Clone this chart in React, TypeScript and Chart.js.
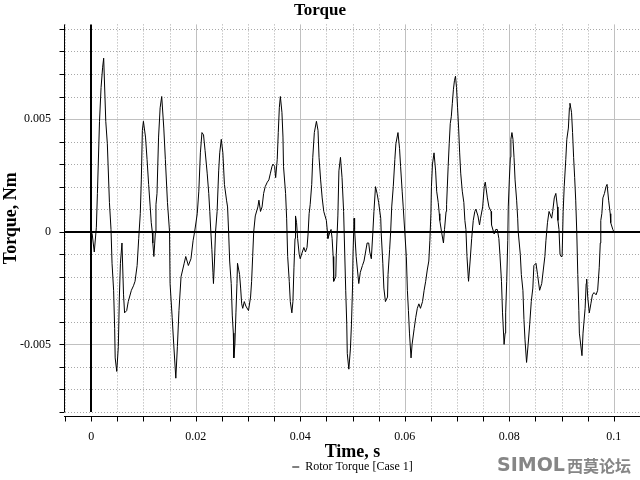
import React, { useEffect, useRef } from 'react';
import { Chart, registerables } from 'chart.js';

Chart.register(...registerables);

// ---- data ----
const timeS = [
  0, 0.0002, 0.0006, 0.0010, 0.0012, 0.0016, 0.0019, 0.0022, 0.0024, 0.0028,
  0.0031, 0.0035, 0.0038, 0.0040, 0.0043, 0.0045, 0.0046, 0.0049, 0.0052, 0.0054,
  0.0056, 0.0059, 0.0062, 0.0064, 0.0068, 0.0071, 0.0077, 0.0081, 0.0084, 0.0088,
  0.0091, 0.0094, 0.0096, 0.0098, 0.0100, 0.0104, 0.0107, 0.0110, 0.0113, 0.0115,
  0.0117, 0.0118, 0.0120, 0.0123, 0.0124, 0.0126, 0.0129, 0.0132, 0.0135, 0.0139,
  0.0142, 0.0146, 0.0150, 0.0151, 0.0155, 0.0158, 0.0162, 0.0165, 0.0168, 0.0172,
  0.0175, 0.0178, 0.0181, 0.0186, 0.0191, 0.0195, 0.0198, 0.0203, 0.0206, 0.0209,
  0.0212, 0.0215, 0.0218, 0.0222, 0.0225, 0.0227, 0.0229, 0.0231, 0.0233, 0.0234,
  0.0236, 0.0238, 0.0241, 0.0244, 0.0246, 0.0249, 0.0250, 0.0252, 0.0255, 0.0259,
  0.0261, 0.0263, 0.0265, 0.0268, 0.0270, 0.0272, 0.0273, 0.0275, 0.0277, 0.0279,
  0.0280, 0.0284, 0.0286, 0.0288, 0.0290, 0.0293, 0.0296, 0.0301, 0.0305, 0.0307,
  0.0309, 0.0311, 0.0314, 0.0319, 0.0321, 0.0324, 0.0327, 0.0330, 0.0333, 0.0337,
  0.0340, 0.0343, 0.0346, 0.0348, 0.0351, 0.0353, 0.0356, 0.0358, 0.0360, 0.0362,
  0.0365, 0.0367, 0.0368, 0.0372, 0.0374, 0.0376, 0.0379, 0.0381, 0.0384, 0.0386,
  0.0388, 0.0390, 0.0391, 0.0393, 0.0395, 0.0398, 0.0400, 0.0404, 0.0407, 0.0410,
  0.0413, 0.0415, 0.0417, 0.0419, 0.0422, 0.0424, 0.0427, 0.0431, 0.0434, 0.0436,
  0.0439, 0.0442, 0.0445, 0.0450, 0.0452, 0.0453, 0.0457, 0.0459, 0.0461, 0.0463,
  0.0464, 0.0468, 0.0469, 0.0472, 0.0474, 0.0477, 0.0480, 0.0483, 0.0487, 0.0489,
  0.0490, 0.0493, 0.0496, 0.0498, 0.0500, 0.0501, 0.0503, 0.0504, 0.0507, 0.0512,
  0.0515, 0.0519, 0.0522, 0.0525, 0.0528, 0.0531, 0.0533, 0.0536, 0.0539, 0.0541,
  0.0544, 0.0547, 0.0550, 0.0554, 0.0555, 0.0558, 0.0560, 0.0563, 0.0567, 0.0568,
  0.0571, 0.0573, 0.0575, 0.0578, 0.0581, 0.0583, 0.0587, 0.0590, 0.0592, 0.0595,
  0.0597, 0.0600, 0.0603, 0.0605, 0.0607, 0.0609, 0.0612, 0.0614, 0.0618, 0.0621,
  0.0624, 0.0627, 0.0630, 0.0634, 0.0637, 0.0640, 0.0643, 0.0646, 0.0648, 0.0650,
  0.0651, 0.0653, 0.0656, 0.0659, 0.0661, 0.0664, 0.0666, 0.0667, 0.0671, 0.0674,
  0.0676, 0.0679, 0.0680, 0.0683, 0.0685, 0.0687, 0.0689, 0.0691, 0.0693, 0.0695,
  0.0697, 0.0699, 0.0701, 0.0703, 0.0705, 0.0707, 0.0710, 0.0713, 0.0715, 0.0717,
  0.0719, 0.0722, 0.0725, 0.0728, 0.0731, 0.0734, 0.0736, 0.0740, 0.0743, 0.0745,
  0.0749, 0.0752, 0.0754, 0.0758, 0.0761, 0.0765, 0.0766, 0.0771, 0.0774, 0.0777,
  0.0780, 0.0782, 0.0785, 0.0787, 0.0790, 0.0792, 0.0793, 0.0795, 0.0797, 0.0798,
  0.0800, 0.0802, 0.0803, 0.0805, 0.0807, 0.0809, 0.0811, 0.0814, 0.0816, 0.0817,
  0.0821, 0.0823, 0.0826, 0.0828, 0.0830, 0.0833, 0.0836, 0.0839, 0.0842, 0.0845,
  0.0847, 0.0851, 0.0854, 0.0858, 0.0862, 0.0865, 0.0868, 0.0870, 0.0873, 0.0876,
  0.0881, 0.0883, 0.0886, 0.0889, 0.0892, 0.0893, 0.0895, 0.0897, 0.0899, 0.0901,
  0.0903, 0.0905, 0.0908, 0.0910, 0.0913, 0.0915, 0.0916, 0.0919, 0.0921, 0.0923,
  0.0925, 0.0927, 0.0929, 0.0931, 0.0933, 0.0934, 0.0939, 0.0941, 0.0945, 0.0947,
  0.0948, 0.0950, 0.0953, 0.0956, 0.0959, 0.0962, 0.0966, 0.0969, 0.0972, 0.0974,
  0.0975, 0.0977, 0.0979, 0.0982, 0.0985, 0.0987, 0.0990, 0.0993, 0.0994, 0.0998, 0.1000,
];

const torqueNm = [
  0, -0.0001, -0.0009, 0.0002, 0.0017, 0.0049, 0.0064, 0.0073, 0.0077, 0.0049,
  0.0039, 0.0013, 0.0001, -0.0014, -0.0026, -0.0043, -0.0056, -0.0062, -0.0051, -0.0029,
  -0.0014, -0.0005, -0.0028, -0.0036, -0.0035, -0.0031, -0.0026, -0.0024, -0.0022, -0.0015,
  -0.0003, 0.0008, 0.0023, 0.0045, 0.0049, 0.0042, 0.0032, 0.0021, 0.0011, 0.0004,
  0, -0.0005, -0.0011, 0, 0.0012, 0.0017, 0.0042, 0.0055, 0.0060, 0.0046,
  0.0032, 0.0013, 0, -0.0023, -0.0038, -0.0050, -0.0065, -0.0051, -0.0035, -0.0020,
  -0.0017, -0.0014, -0.0011, -0.0015, -0.0012, -0.0004, 0, 0.0008, 0.0018, 0.0035,
  0.0044, 0.0043, 0.0036, 0.0026, 0.0017, 0.0009, 0, -0.0008, -0.0018, -0.0023,
  -0.0013, 0, 0.0009, 0.0027, 0.0035, 0.0041, 0.0041, 0.0035, 0.0021, 0.0014,
  0.0011, 0, -0.0013, -0.0023, -0.0037, -0.0045, -0.0056, -0.0050, -0.0036, -0.0023,
  -0.0014, -0.0019, -0.0025, -0.0032, -0.0034, -0.0031, -0.0033, -0.0035, -0.0029, -0.0022,
  -0.0011, 0, 0.0007, 0.0011, 0.0014, 0.0009, 0.0011, 0.0017, 0.0020, 0.0022,
  0.0023, 0.0026, 0.0029, 0.0030, 0.0029, 0.0024, 0.0032, 0.0044, 0.0055, 0.0060,
  0.0053, 0.0042, 0.0029, 0.0017, 0.0006, -0.0011, -0.0022, -0.0031, -0.0036, -0.0031,
  -0.0016, -0.0003, 0.0007, 0.0004, -0.0003, -0.0010, -0.0012, -0.0009, -0.0007, -0.0009,
  -0.0007, -0.0001, 0.0008, 0.0012, 0.0021, 0.0033, 0.0044, 0.0049, 0.0045, 0.0033,
  0.0023, 0.0015, 0.0009, 0.0005, 0, -0.0003, 0, 0.0001, -0.0003, -0.0011,
  -0.0022, -0.0020, -0.0010, 0.0007, 0.0027, 0.0033, 0.0024, 0.0009, -0.0026, -0.0041,
  -0.0054, -0.0061, -0.0052, -0.0041, -0.0025, -0.0010, 0.0006, 0.0001, -0.0011, -0.0023,
  -0.0018, -0.0015, -0.0013, -0.0009, -0.0005, -0.0005, -0.0009, -0.0012, 0, 0.0009,
  0.0020, 0.0017, 0.0013, 0.0006, -0.0001, -0.0014, -0.0025, -0.0031, -0.0029, -0.0019,
  -0.0008, 0, 0.0011, 0.0020, 0.0032, 0.0039, 0.0044, 0.0037, 0.0029, 0.0018,
  0.0011, 0, -0.0011, -0.0026, -0.0035, -0.0045, -0.0056, -0.0050, -0.0043, -0.0038,
  -0.0034, -0.0032, -0.0034, -0.0031, -0.0026, -0.0022, -0.0017, -0.0013, -0.0004, 0.0008,
  0.0020, 0.0030, 0.0035, 0.0027, 0.0018, 0.0013, 0.0008, 0.0005, -0.0001, -0.0005,
  0.0001, 0.0009, 0.0012, 0.0029, 0.0039, 0.0048, 0.0051, 0.0057, 0.0063, 0.0067,
  0.0069, 0.0064, 0.0055, 0.0046, 0.0035, 0.0026, 0.0018, 0.0013, 0.0005, 0.0001,
  -0.0011, -0.0022, -0.0013, -0.0003, 0.0005, 0.0009, 0.0010, 0.0007, 0.0003, 0.0006,
  0.0011, 0.0020, 0.0022, 0.0015, 0.0011, 0.0009, 0.0003, -0.0001, 0.0001, 0.0001,
  -0.0003, -0.0010, -0.0022, -0.0036, -0.0050, -0.0045, -0.0036, -0.0022, -0.0004, 0.0011,
  0.0023, 0.0033, 0.0041, 0.0044, 0.0041, 0.0033, 0.0023, 0.0014, 0.0006, 0,
  -0.0010, -0.0019, -0.0026, -0.0039, -0.0048, -0.0058, -0.0050, -0.0041, -0.0031, -0.0025,
  -0.0015, -0.0014, -0.0019, -0.0026, -0.0023, -0.0017, -0.0011, -0.0004, 0.0004, 0.0009,
  0.0006, 0.0009, 0.0015, 0.0017, 0.0011, 0.0005, 0.0001, -0.0010, -0.0011, -0.0011,
  0.0009, 0.0020, 0.0032, 0.0041, 0.0046, 0.0055, 0.0057, 0.0053, 0.0044, 0.0033,
  0.0024, 0.0014, 0, -0.0019, -0.0035, -0.0045, -0.0055, -0.0045, -0.0034, -0.0023,
  -0.0021, -0.0029, -0.0036, -0.0032, -0.0028, -0.0027, -0.0028, -0.0026, -0.0016, -0.0005,
  0.0005, 0.0008, 0.0015, 0.0017, 0.0020, 0.0021, 0.0014, 0.0008, 0.0004, 0.0001, 0,
];

const xTickValues = [0, 0.02, 0.04, 0.06, 0.08, 0.1];
const xTickLabels = ['0', '0.02', '0.04', '0.06', '0.08', '0.1'];
const yTickValues = [-0.005, 0, 0.005];
const yTickLabels = ['-0.005', '0', '0.005'];

const chartTitle = 'Torque';
const xAxisTitle = 'Time, s';
const yAxisTitle = 'Torque, Nm';
const seriesLabel = 'Rotor Torque [Case 1]';
const watermarkLatin = 'SIMOL';
const watermarkCjk = '西莫论坛';

// axis ranges and grid spacing
const X_MIN = -0.005;
const X_MAX = 0.105;
const Y_MIN = -0.008;
const Y_MAX = 0.0092;
const X_GRID_STEP = 0.005;
const X_MAJOR_EVERY = 4;
const Y_GRID_STEP = 0.001;
const Y_MAJOR_EVERY = 5;

const SERIF = '"Liberation Serif", "Times New Roman", serif';

const gridPlugin = {
  id: 'torqueGrid',
  afterLayout(chart: any) {
    // centre the legend under the plot area, as in the reference
    const lg = chart.legend;
    if (lg) {
      lg.left = chart.chartArea.left;
      lg.right = chart.chartArea.right;
    }
  },
  beforeDatasetsDraw(chart: any) {
    const { ctx, chartArea: a, scales } = chart;
    const xs = scales.x;
    const ys = scales.y;
    ctx.save();

    const vLine = (px: number, color: string, width: number, dash: number[]) => {
      ctx.beginPath();
      ctx.setLineDash(dash);
      ctx.strokeStyle = color;
      ctx.lineWidth = width;
      ctx.moveTo(px, a.top);
      ctx.lineTo(px, a.bottom);
      ctx.stroke();
    };
    const hLine = (py: number, color: string, width: number, dash: number[]) => {
      ctx.beginPath();
      ctx.setLineDash(dash);
      ctx.strokeStyle = color;
      ctx.lineWidth = width;
      ctx.moveTo(a.left, py);
      ctx.lineTo(a.right, py);
      ctx.stroke();
    };

    const nx0 = Math.ceil(X_MIN / X_GRID_STEP - 1e-6);
    const nx1 = Math.floor(X_MAX / X_GRID_STEP + 1e-6);
    const ny0 = Math.ceil(Y_MIN / Y_GRID_STEP - 1e-6);
    const ny1 = Math.floor(Y_MAX / Y_GRID_STEP + 1e-6);

    // dotted minor grid
    for (let i = nx0; i <= nx1; i++) {
      if (i % X_MAJOR_EVERY === 0) continue;
      const px = Math.round(xs.getPixelForValue(i * X_GRID_STEP)) + 0.5;
      vLine(px, '#a8a8a8', 1, [1, 2]);
    }
    for (let j = ny0; j <= ny1; j++) {
      if (j % Y_MAJOR_EVERY === 0) continue;
      const py = Math.round(ys.getPixelForValue(j * Y_GRID_STEP)) + 0.5;
      hLine(py, '#a8a8a8', 1, [1, 2]);
    }
    // solid major grid
    for (let i = nx0; i <= nx1; i++) {
      if (i % X_MAJOR_EVERY !== 0 || i === 0) continue;
      const px = Math.round(xs.getPixelForValue(i * X_GRID_STEP)) + 0.5;
      vLine(px, '#c0c0c0', 1, []);
    }
    for (let j = ny0; j <= ny1; j++) {
      if (j % Y_MAJOR_EVERY !== 0 || j === 0) continue;
      const py = Math.round(ys.getPixelForValue(j * Y_GRID_STEP)) + 0.5;
      hLine(py, '#c0c0c0', 1, []);
    }
    // zero lines
    vLine(Math.round(xs.getPixelForValue(0)), '#000', 2, []);
    hLine(Math.round(ys.getPixelForValue(0)), '#000', 2, []);

    ctx.restore();
  },
  afterDraw(chart: any) {
    const { ctx, chartArea: a, scales } = chart;
    const xs = scales.x;
    const ys = scales.y;
    ctx.save();
    ctx.setLineDash([]);
    ctx.strokeStyle = '#000';
    ctx.lineWidth = 1;

    // y axis line + ticks
    const axX = Math.round(a.left) - 0.5;
    ctx.beginPath();
    ctx.moveTo(axX, a.top);
    ctx.lineTo(axX, Math.round(a.bottom));
    const ny0 = Math.ceil(Y_MIN / Y_GRID_STEP - 1e-6);
    const ny1 = Math.floor(Y_MAX / Y_GRID_STEP + 1e-6);
    for (let j = ny0; j <= ny1; j++) {
      const py = Math.round(ys.getPixelForValue(j * Y_GRID_STEP)) + 0.5;
      ctx.moveTo(axX - 5, py);
      ctx.lineTo(axX, py);
    }
    // x axis line + ticks
    const axY = Math.round(a.bottom) + 4.5;
    ctx.moveTo(a.left - 1, axY);
    ctx.lineTo(a.right, axY);
    const nx0 = Math.ceil(X_MIN / X_GRID_STEP - 1e-6);
    const nx1 = Math.floor(X_MAX / X_GRID_STEP + 1e-6);
    for (let i = nx0; i <= nx1; i++) {
      const px = Math.round(xs.getPixelForValue(i * X_GRID_STEP)) + 0.5;
      ctx.moveTo(px, axY);
      ctx.lineTo(px, axY + 5);
    }
    ctx.stroke();

    // watermark
    ctx.fillStyle = '#868686';
    ctx.textBaseline = 'middle';
    ctx.textAlign = 'left';
    ctx.font = 'bold 19px "DejaVu Sans", sans-serif';
    ctx.fillText(watermarkLatin, 497, 466);
    const w = ctx.measureText(watermarkLatin).width;
    ctx.font = 'bold 16px "Noto Sans CJK SC", sans-serif';
    ctx.fillText(watermarkCjk, 497 + w + 2, 466);
    ctx.restore();
  },
};

export default function App() {
  const canvasRef = useRef<HTMLCanvasElement>(null);

  useEffect(() => {
    const canvas = canvasRef.current;
    if (!canvas) return;
    const points = timeS.map((t, i) => ({ x: t, y: torqueNm[i] }));
    const chart = new Chart(canvas, {
      type: 'line',
      data: {
        datasets: [
          {
            label: seriesLabel,
            data: points,
            borderColor: '#000',
            backgroundColor: '#000',
            borderWidth: 1,
            pointRadius: 0,
            pointStyle: 'line',
            tension: 0,
            fill: false,
          },
        ],
      },
      options: {
        animation: false,
        responsive: false,
        devicePixelRatio: 1,
        parsing: false as any,
        layout: { padding: { top: 0, left: 0, right: 0, bottom: -3 } },
        plugins: {
          title: {
            display: true,
            text: chartTitle,
            color: '#000',
            font: { family: SERIF, size: 17, weight: 'bold' },
            padding: { top: 0, bottom: 4 },
          },
          legend: {
            display: true,
            position: 'bottom',
            labels: {
              usePointStyle: true,
              pointStyle: 'line',
              pointStyleWidth: 7,
              padding: 0,
              color: '#000',
              font: { family: SERIF, size: 12 },
            },
          },
          tooltip: { enabled: false },
        },
        scales: {
          x: {
            type: 'linear',
            min: X_MIN,
            max: X_MAX,
            grid: { display: false, drawTicks: false },
            border: { display: false },
            afterBuildTicks: (s: any) => {
              s.ticks = xTickValues.map((v) => ({ value: v }));
            },
            afterFit: (s: any) => {
              s.height = 49;
            },
            ticks: {
              autoSkip: false,
              maxRotation: 0,
              padding: 18,
              color: '#000',
              font: { family: SERIF, size: 12 },
              callback: (_v: any, i: number) => xTickLabels[i],
            },
            title: {
              display: true,
              text: xAxisTitle,
              color: '#000',
              font: { family: SERIF, size: 18, weight: 'bold' },
              padding: { top: 0, bottom: -2 },
            },
          },
          y: {
            type: 'linear',
            min: Y_MIN,
            max: Y_MAX,
            grid: { display: false, drawTicks: false },
            border: { display: false },
            afterBuildTicks: (s: any) => {
              s.ticks = yTickValues.map((v) => ({ value: v }));
            },
            afterFit: (s: any) => {
              s.width = 65;
            },
            ticks: {
              autoSkip: false,
              padding: 14,
              color: '#000',
              font: { family: SERIF, size: 12 },
              callback: (_v: any, i: number) => yTickLabels[i],
            },
            title: {
              display: true,
              text: yAxisTitle,
              color: '#000',
              font: { family: SERIF, size: 18, weight: 'bold' },
              padding: { top: 1, bottom: 0 },
            },
          },
        },
      },
      plugins: [gridPlugin],
    } as any);
    return () => chart.destroy();
  }, []);

  return (
    <div style={{ position: 'absolute', left: 0, top: 0, width: 640, height: 480, background: '#fff' }}>
      <canvas ref={canvasRef} width={640} height={480} style={{ display: 'block' }} />
    </div>
  );
}
